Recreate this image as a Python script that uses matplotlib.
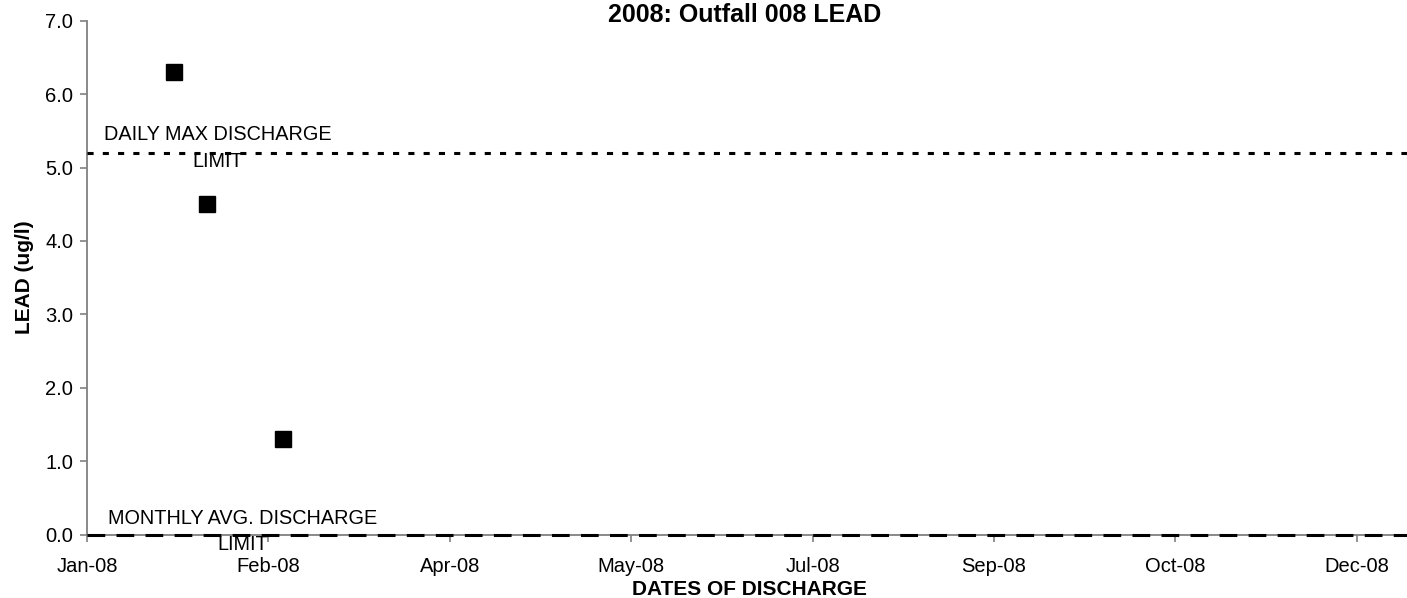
import matplotlib
matplotlib.use('Agg')
import matplotlib.pyplot as plt
import matplotlib.dates as mdates
import numpy as np
from datetime import datetime, timedelta

plt.rcParams['font.family'] = ['Liberation Sans', 'DejaVu Sans']

# данные пробы
sample_dates = [datetime(2008, 1, 25), datetime(2008, 2, 3), datetime(2008, 2, 24)]
lead_values = [6.3, 4.5, 1.3]

daily_max_limit = 5.2
monthly_avg_limit = 0.0

x_start = datetime(2008, 1, 1)
x_end = datetime(2008, 12, 31)
tick_dates = [x_start + timedelta(days=50 * i) for i in range(8)]
y_ticks = np.arange(0, 7.1, 1.0)

fig = plt.figure(figsize=(14.07, 5.98), dpi=100)
ax = fig.add_axes([0.0618, 0.1059, 0.9412, 0.8595])

ax.plot(sample_dates, lead_values, linestyle='none', marker='s', markersize=11,
        color='black', zorder=5)

# линии лимитов
ax.axhline(daily_max_limit, color='black', linewidth=2.2, linestyle=(0, (2.0, 3.0)), zorder=3)
ax.axhline(monthly_avg_limit, color='black', linewidth=2.2, linestyle=(0, (5.8, 3.7)), zorder=3,
           clip_on=False)

ax.text(datetime(2008, 2, 6), 5.27, 'DAILY MAX DISCHARGE\nLIMIT',
        ha='center', va='center', fontsize=14.3, linespacing=1.55)
ax.text(datetime(2008, 2, 13), 0.04, 'MONTHLY AVG. DISCHARGE\nLIMIT',
        ha='center', va='center', fontsize=14.3, linespacing=1.47)

ax.set_xlim(x_start, x_end)
ax.set_ylim(0, 7.0)
ax.set_xticks(tick_dates)
ax.xaxis.set_major_formatter(mdates.DateFormatter('%b-%y'))
ax.set_yticks(y_ticks)
ax.set_yticklabels([f'{v:.1f}' for v in y_ticks])

ax.spines['top'].set_visible(False)
ax.spines['right'].set_visible(False)
ax.spines['left'].set_color('gray')
ax.spines['bottom'].set_color('gray')
ax.spines['left'].set_linewidth(1.3)
ax.spines['bottom'].set_linewidth(1.3)
ax.tick_params(axis='both', colors='gray', length=5, width=1.2, labelsize=14.5, labelcolor='black')
ax.tick_params(axis='x', pad=11)
ax.tick_params(axis='y', pad=5)

ax.set_xlabel('DATES OF DISCHARGE', fontsize=15, fontweight='bold', labelpad=3)
ax.set_ylabel('LEAD (ug/l)', fontsize=15, fontweight='bold', labelpad=8)
fig.text(0.529, 1 - 22 / 598, '2008: Outfall 008 LEAD', ha='center', va='baseline',
         fontsize=18, fontweight='bold')

fig.savefig('out.png', dpi=100)
